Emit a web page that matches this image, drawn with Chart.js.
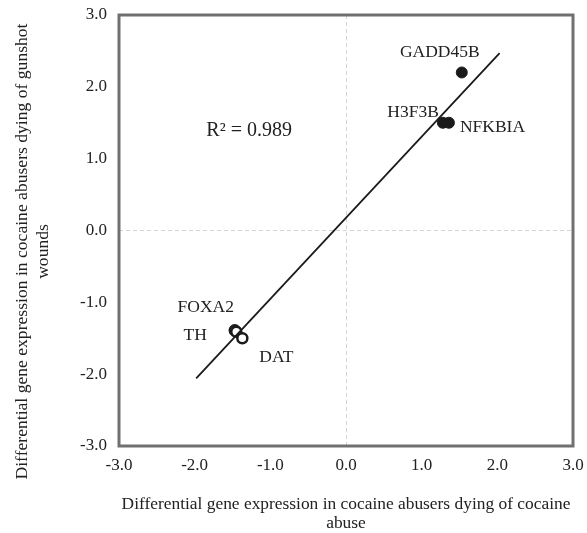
<!DOCTYPE html>
<html>
<head>
<meta charset="utf-8">
<script src="https://cdn.jsdelivr.net/npm/chart.js@4"></script>
<style>
  html, body { margin: 0; padding: 0; background: #fff; }
  #wrap { width: 587px; height: 533px; }
</style>
</head>
<body>
<div id="wrap"><canvas id="scatter"></canvas></div>
<script>
// data
const filledGenes = ["GADD45B", "H3F3B", "NFKBIA"];
const filledX = [1.53, 1.28, 1.36];
const filledY = [2.20, 1.50, 1.50];

const openGenes = ["FOXA2", "TH", "DAT"];
const openX = [-1.47, -1.45, -1.37];
const openY = [-1.39, -1.41, -1.50];

const trendX = [-1.98, 2.03];
const trendY = [-2.06, 2.47];

const rSquared = "R\u00B2 = 0.989";
const tickValues = [-3, -2, -1, 0, 1, 2, 3];
const xTitle = ["Differential gene expression in cocaine abusers dying of cocaine", "abuse"];
const yTitle = ["Differential gene expression in cocaine abusers dying of gunshot", "wounds"];

const serif = "'Liberation Serif', 'Times New Roman', serif";

// where each gene label sits, in pixels from its point
const labelPlace = {
    GADD45B: [-22, -20, "center"],
    H3F3B: [-4, -10, "right"],
    NFKBIA: [11, 5, "left"],
    FOXA2: [-29, -23, "center"],
    TH: [-41, 4, "center"],
    DAT: [34, 19, "center"],
};

function toPoints(xs, ys) {
    return xs.map((x, i) => ({ x: x, y: ys[i] }));
}

const frameAndText = {
    id: "frameAndText",
    afterDatasetsDraw(chart) {
        const { ctx, chartArea: a, scales } = chart;
        ctx.save();
        ctx.strokeStyle = "#707070";
        ctx.lineWidth = 3;
        ctx.strokeRect(a.left, a.top, a.right - a.left, a.bottom - a.top);

        ctx.fillStyle = "#222";
        ctx.textBaseline = "middle";
        ctx.font = "17.5px " + serif;
        const sets = [[filledGenes, 1], [openGenes, 2]];
        for (const [genes, di] of sets) {
            const meta = chart.getDatasetMeta(di);
            genes.forEach((g, i) => {
                const el = meta.data[i];
                const p = labelPlace[g];
                ctx.textAlign = p[2];
                ctx.fillText(g, el.x + p[0], el.y + p[1]);
            });
        }

        ctx.font = "20px " + serif;
        ctx.textAlign = "center";
        ctx.fillText(rSquared, scales.x.getPixelForValue(-1.28), scales.y.getPixelForValue(1.39));

        // y title sits a little below the middle of the plot, as in the original
        ctx.font = "17.6px " + serif;
        ctx.translate(22, (a.top + a.bottom) / 2 + 21);
        ctx.rotate(-Math.PI / 2);
        ctx.fillText(yTitle[0], 0, 0);
        ctx.fillText(yTitle[1], 0, 21);
        ctx.restore();
    }
};

function zeroGrid(c) {
    return c.tick && c.tick.value === 0 ? "#d4d4d4" : "rgba(0,0,0,0)";
}

new Chart(document.getElementById("scatter"), {
    type: "scatter",
    data: {
        datasets: [{
            type: "line",
            data: toPoints(trendX, trendY),
            borderColor: "#1a1a1a",
            borderWidth: 1.8,
            pointRadius: 0,
            fill: false,
        }, {
            data: toPoints(filledX, filledY),
            backgroundColor: "#1a1a1a",
            borderColor: "#1a1a1a",
            pointRadius: 5.5,
            borderWidth: 1,
        }, {
            data: toPoints(openX, openY),
            backgroundColor: "#ffffff",
            borderColor: "#1a1a1a",
            pointRadius: 5,
            borderWidth: 2.5,
        }],
    },
    options: {
        responsive: true,
        maintainAspectRatio: false,
        animation: false,
        layout: { padding: { top: 15, right: 14, left: 0, bottom: 0 } },
        plugins: { legend: { display: false }, tooltip: { enabled: false } },
        scales: {
            x: {
                type: "linear",
                min: -3, max: 3,
                afterBuildTicks: (s) => { s.ticks = tickValues.map(v => ({ value: v })); },
                afterFit: (s) => { s.height = 87; s.paddingLeft = 0; s.paddingRight = 0; },
                grid: { color: zeroGrid, drawTicks: false, lineWidth: 1 },
                border: { display: false, dash: [4, 3] },
                ticks: {
                    padding: 9,
                    color: "#222",
                    font: { family: serif, size: 17 },
                    callback: (v) => v.toFixed(1),
                },
                title: {
                    display: true,
                    text: xTitle,
                    color: "#222",
                    font: { family: serif, size: 17.4, lineHeight: 1.1 },
                    padding: { top: 0, bottom: 0 },
                },
            },
            y: {
                type: "linear",
                min: -3, max: 3,
                afterBuildTicks: (s) => { s.ticks = tickValues.map(v => ({ value: v })); },
                afterFit: (s) => { s.width = 119; s.paddingTop = 0; s.paddingBottom = 0; },
                grid: { color: zeroGrid, drawTicks: false, lineWidth: 1 },
                border: { display: false, dash: [4, 3] },
                ticks: {
                    padding: 12,
                    color: "#222",
                    font: { family: serif, size: 17 },
                    callback: (v) => v.toFixed(1),
                },
                title: { display: false },
            },
        },
    },
    plugins: [frameAndText],
});
</script>
</body>
</html>
